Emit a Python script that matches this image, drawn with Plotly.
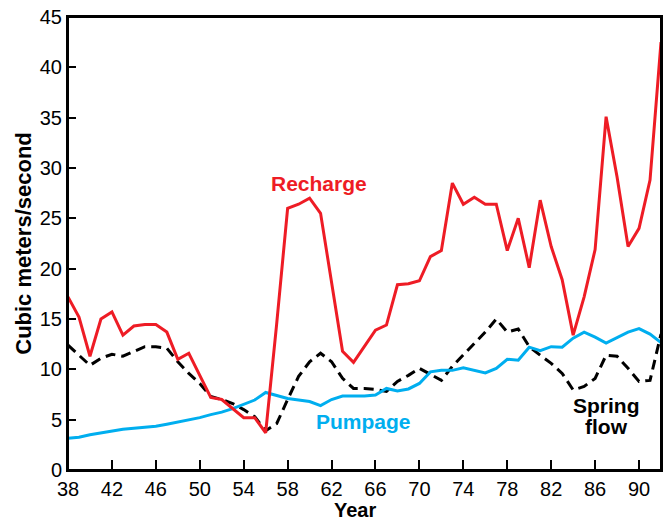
import plotly.graph_objects as go

years = list(range(1938, 1993))
year_short = [y - 1900 for y in years]

recharge = [17.2, 15.2, 11.3, 15.0, 15.7, 13.4, 14.3, 14.45, 14.45, 13.7,
            11.0, 11.6, 9.4, 7.2, 7.0, 6.1, 5.2, 5.2, 3.7, 14.5,
            26.0, 26.4, 27.0, 25.5, 18.6, 11.8, 10.7, 12.3, 13.9, 14.4,
            18.4, 18.5, 18.8, 21.2, 21.8, 28.5, 26.4, 27.1, 26.4, 26.4,
            21.8, 25.0, 20.1, 26.8, 22.2, 18.9, 13.4, 17.2, 21.9, 35.1,
            29.1, 22.2, 24.0, 28.8, 42.5]

spring_flow = [12.4, 11.4, 10.4, 11.1, 11.5, 11.3, 11.75, 12.25, 12.25, 12.1,
               10.75, 9.6, 8.6, 7.3, 7.0, 6.6, 6.0, 5.3, 3.9, 4.6,
               7.0, 9.3, 10.75, 11.6, 10.75, 9.1, 8.1, 8.1, 8.0, 7.8,
               8.8, 9.4, 10.1, 9.5, 8.9, 10.3, 11.4, 12.6, 13.7, 15.0,
               13.7, 14.0, 12.25, 11.4, 10.6, 9.6, 7.95, 8.3, 9.1, 11.4,
               11.3, 10.1, 8.8, 8.9, 13.5]

pumpage = [3.15, 3.25, 3.5, 3.7, 3.9, 4.05, 4.15, 4.25, 4.35, 4.55,
           4.75, 4.95, 5.2, 5.5, 5.75, 6.1, 6.5, 6.95, 7.7, 7.4,
           7.1, 6.95, 6.8, 6.4, 7.0, 7.35, 7.35, 7.35, 7.45, 8.1,
           7.85, 8.05, 8.6, 9.75, 9.9, 9.9, 10.15, 9.9, 9.65, 10.1,
           11.0, 10.9, 12.2, 11.85, 12.25, 12.2, 13.1, 13.7, 13.2, 12.6,
           13.15, 13.7, 14.05, 13.5, 12.65]

x_ticks = list(range(38, 91, 4))
y_ticks = list(range(0, 46, 5))

RED = "#ee1c25"
BLUE = "#00aeef"
FONT = "Liberation Sans, Arial, sans-serif"

fig = go.Figure()
fig.add_trace(go.Scatter(x=year_short, y=spring_flow, mode="lines",
                         line=dict(color="black", width=3, dash="10px,6px"),
                         name="Spring flow"))
fig.add_trace(go.Scatter(x=year_short, y=pumpage, mode="lines",
                         line=dict(color=BLUE, width=3), name="Pumpage"))
fig.add_trace(go.Scatter(x=year_short, y=recharge, mode="lines",
                         line=dict(color=RED, width=3), name="Recharge"))

ann_font = dict(family=FONT, size=21)
fig.add_annotation(x=60.85, y=28.5, text="<b>Recharge</b>", showarrow=False,
                   font=dict(ann_font, color=RED))
fig.add_annotation(x=64.9, y=4.8, text="<b>Pumpage</b>", showarrow=False,
                   font=dict(ann_font, color=BLUE))
fig.add_annotation(x=87.0, y=6.45, text="<b>Spring</b>", showarrow=False,
                   font=dict(ann_font, color="black"))
fig.add_annotation(x=87.0, y=4.3, text="<b>flow</b>", showarrow=False,
                   font=dict(ann_font, color="black"))
# x-axis title
fig.add_annotation(xref="paper", yref="paper", x=0.484, y=0, yanchor="middle",
                   yshift=-40, text="<b>Year</b>", showarrow=False,
                   font=dict(family=FONT, size=20, color="black"))

# plot frame
fig.add_shape(type="rect", xref="paper", yref="paper", x0=0, y0=0, x1=1, y1=1,
              line=dict(color="black", width=2), layer="above")

fig.update_layout(
    width=668, height=518,
    margin=dict(l=68, r=7, t=17, b=48, autoexpand=False),
    paper_bgcolor="white", plot_bgcolor="white",
    showlegend=False, hovermode=False,
    font=dict(family=FONT, size=20, color="black"),
)
fig.update_xaxes(range=[38, 92], tickmode="array", tickvals=x_ticks,
                 ticktext=[str(t) for t in x_ticks],
                 ticks="inside", ticklen=10, tickwidth=2, tickcolor="black",
                 showline=True, linecolor="black", linewidth=2, mirror=True,
                 showgrid=False, zeroline=False, ticklabeloverflow="allow",
                 tickfont=dict(family=FONT, size=20))
fig.update_yaxes(range=[0, 45], tickmode="array", tickvals=y_ticks,
                 ticks="inside", ticklen=8, tickwidth=2, tickcolor="black",
                 showline=True, linecolor="black", linewidth=2, mirror=True,
                 showgrid=False, zeroline=False, ticklabeloverflow="allow",
                 tickfont=dict(family=FONT, size=20),
                 title=dict(text="<b>Cubic meters/second</b>", font=dict(family=FONT, size=22), standoff=2))

fig.write_html("out.html", config={"displayModeBar": False, "staticPlot": True},
               post_script="document.body.style.margin='0';document.body.style.overflow='hidden';")
